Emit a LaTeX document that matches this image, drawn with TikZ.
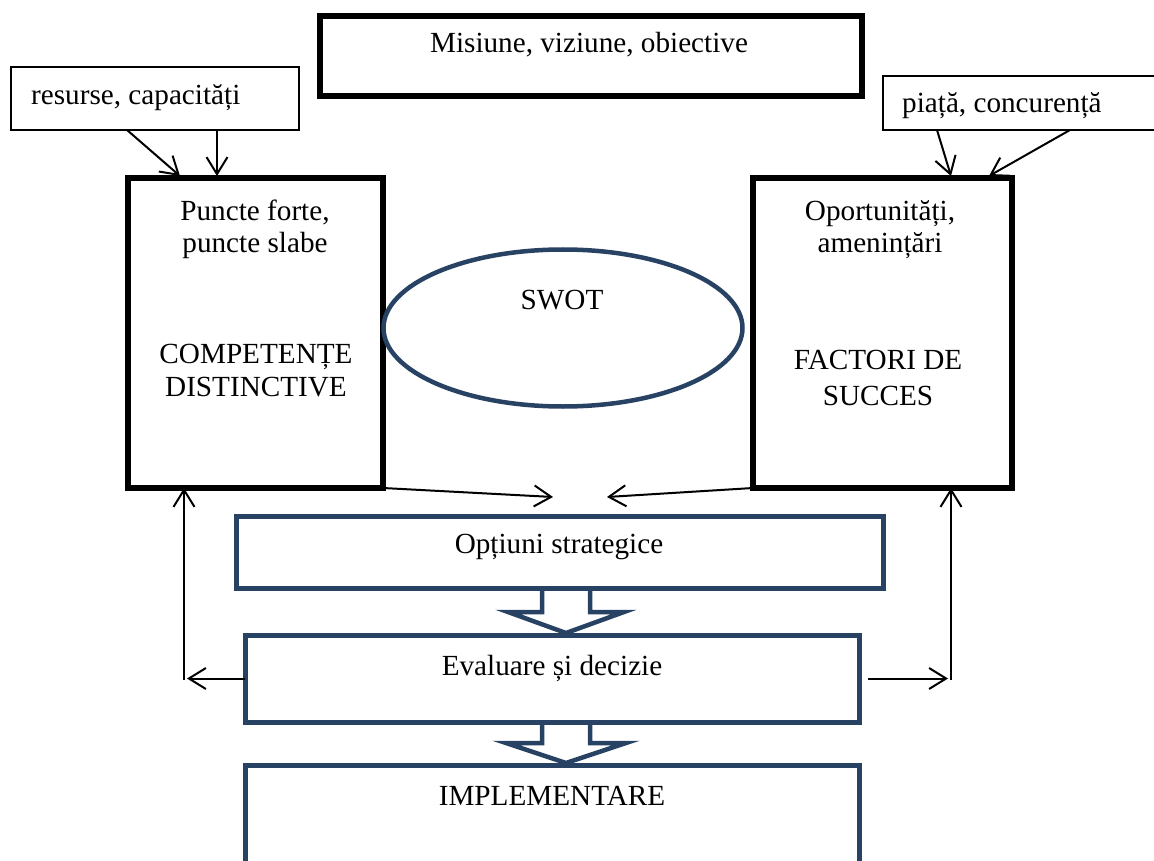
\documentclass[tikz,border=0pt]{standalone}
\usepackage{fontspec}
\setmainfont{Liberation Serif}
\usetikzlibrary{arrows.meta,shapes.geometric,calc}
\definecolor{navy}{RGB}{40,66,100}
\begin{document}
\begin{tikzpicture}[x=1pt,y=-1pt,
  lbl/.style={font=\fontsize{29.2}{32.5}\selectfont, inner sep=0pt, align=center, anchor=base},
  blackbox/.style={draw=black, line width=5.5pt, inner sep=0pt, outer sep=0pt},
  thinbox/.style={draw=black, line width=1.5pt, inner sep=0pt, outer sep=0pt},
  navybox/.style={draw=navy, line width=5pt, inner sep=0pt, outer sep=0pt},
  oval/.style={ellipse, draw=navy, line width=4.5pt, inner sep=0pt, outer sep=0pt},
  conn/.style={draw=black, line width=2pt, -{Straight Barb[length=17pt,width=21pt]}},
  blockarrow/.style={draw=navy, line width=4.5pt, line join=miter}
]
\clip (0,0) rectangle (1154,861);
\fill[white] (0,0) rectangle (1154,861);

% boxes
\node[blackbox, minimum width=542pt, minimum height=80pt]  (mis) at (591,56) {};
\node[thinbox,  minimum width=288pt, minimum height=63pt]  (res) at (155,98.5) {};
\node[thinbox,  minimum width=297pt, minimum height=54pt]  (pia) at (1031.5,103) {};
\node[blackbox, minimum width=255pt, minimum height=310pt] (lb)  at (255.5,333) {};
\node[blackbox, minimum width=259pt, minimum height=310pt] (rb)  at (882.5,333) {};
\node[oval,     minimum width=359pt, minimum height=157pt] (sw)  at (563,328) {};
\node[navybox,  minimum width=647pt, minimum height=72pt]  (opt) at (559.5,552) {};
\node[navybox,  minimum width=614pt, minimum height=87pt]  (eval) at (552,678.5) {};
\node[navybox,  minimum width=614pt, minimum height=135pt] (impl) at (552,832.5) {};

% texts (base anchor of a two-line label sits on its second line)
\node[lbl] (tmis) at (589,53) {Misiune, viziune, obiective};
\node[lbl, anchor=base west] (tres) at (31,105) {resurse, capacități};
\node[lbl, anchor=base west] (tpia) at (902,113) {piață, concurență};
\node[lbl] (tpf) at (255,253) {Puncte forte,\\puncte slabe};
\node[lbl] (tcd) at (256,396) {COMPETENȚE\\DISTINCTIVE};
\node[lbl] (top) at (880,253) {Oportunități,\\amenințări};
\node[lbl] (tfs) at (878,405) {FACTORI DE\\[3pt]SUCCES};
\node[lbl] (tsw) at (562,309) {SWOT};
\node[lbl] (topt) at (559,553) {Opțiuni strategice};
\node[lbl] (tev) at (552,675) {Evaluare și decizie};
\node[lbl] (tim) at (552,805) {IMPLEMENTARE};

% hollow block arrows between the stages
\coordinate (ba1) at ([xshift=6.5pt]opt.south);
\draw[blockarrow] ($(ba1)+(-24,0)$) -- ++(0,24) -- ++(-34,0) -- ++(58,21) -- ++(58,-21) -- ++(-34,0) -- ++(0,-24);
\coordinate (ba2) at ([xshift=14pt]eval.south);
\draw[blockarrow] ($(ba2)+(-24,0)$) -- ++(0,21) -- ++(-36,0) -- ++(60,20) -- ++(60,-20) -- ++(-36,0) -- ++(0,-21);

% inputs
\draw[conn] ([xshift=-28pt]res.south) -- ([xshift=-75.5pt,yshift=2pt]lb.north);
\draw[conn] ([xshift=62pt]res.south) -- ([xshift=-38.5pt,yshift=2pt]lb.north);
\draw[conn] ([xshift=54pt]pia.south west) -- ([xshift=68.5pt,yshift=2pt]rb.north);
\draw[conn] ([xshift=187pt]pia.south west) -- ([xshift=106.5pt,yshift=2pt]rb.north);

% towards the strategic options
\coordinate (mL) at (553,497);
\coordinate (mR) at (607,497);
\draw[conn] (lb.south east) -- (mL);
\draw[conn] (rb.south west) -- (mR);

% feedback loops
\path (eval.west) ++(-61,0) coordinate (cL);
\path (eval.east) ++(92,0) coordinate (cR);
\draw[conn] (eval.west) -- ([xshift=3pt]cL);
\draw[conn] ([yshift=-1pt]cL) -- (cL |- lb.south);
\draw[conn] ([xshift=9pt]eval.east) -- ([xshift=-3pt]cR);
\draw[conn] ([yshift=-1pt]cR) -- (cR |- rb.south);
\end{tikzpicture}
\end{document}
